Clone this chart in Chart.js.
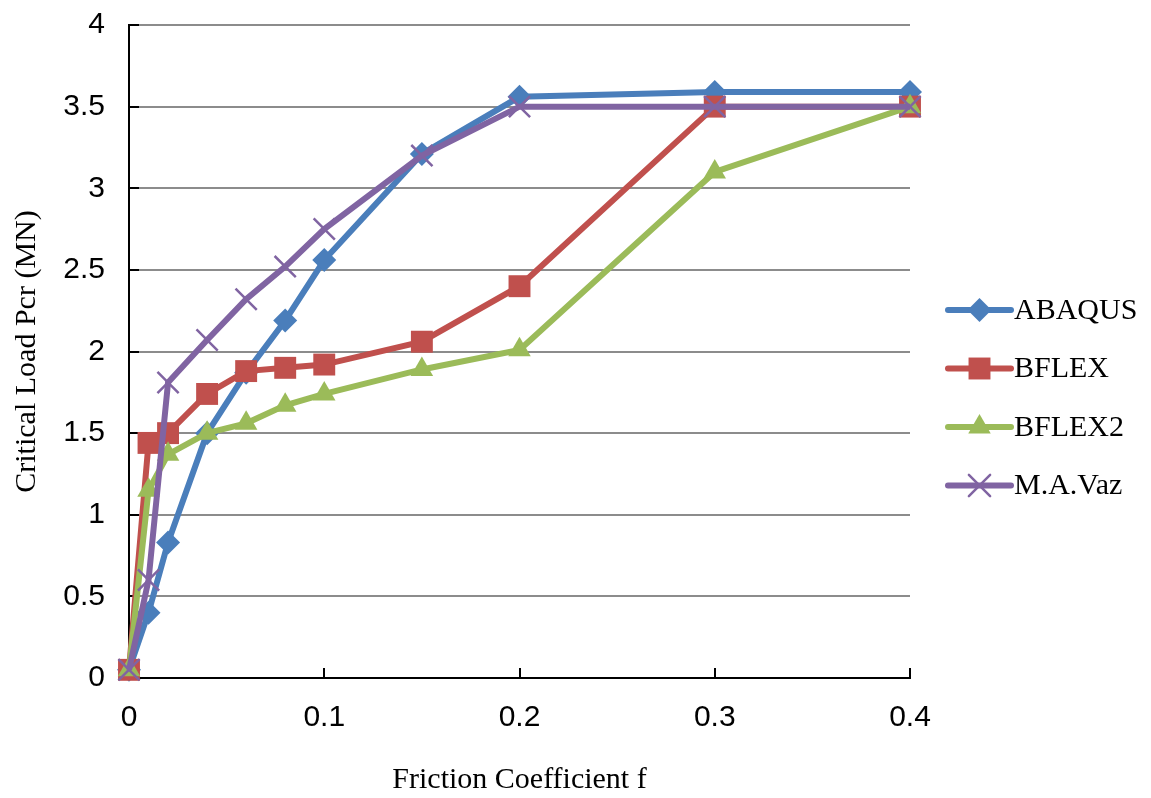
<!DOCTYPE html>
<html>
<head>
<meta charset="utf-8">
<script src="https://cdn.jsdelivr.net/npm/chart.js@4.4.0/dist/chart.umd.min.js"></script>
<style>
  html, body { margin: 0; padding: 0; background: #fff; }
  #wrap { width: 1151px; height: 798px; }
</style>
</head>
<body>
<div id="wrap"><canvas id="chart" width="1151" height="798"></canvas></div>
<script>
// friction coefficient values (x)
const friction = [0, 0.01, 0.02, 0.04, 0.06, 0.08, 0.1, 0.15, 0.2, 0.3, 0.4];

// critical load Pcr (MN) per method
const abaqus = [0.05, 0.40, 0.83, 1.50, 1.87, 2.19, 2.56, 3.21, 3.56, 3.59, 3.59];
const bflex  = [0.05, 1.44, 1.50, 1.74, 1.88, 1.90, 1.92, 2.06, 2.40, 3.50, 3.50];
const bflex2 = [0.05, 1.15, 1.37, 1.50, 1.56, 1.67, 1.74, 1.89, 2.01, 3.10, 3.50];
const maVaz  = [0.05, 0.60, 1.81, 2.07, 2.32, 2.52, 2.75, 3.20, 3.50, 3.50, 3.50];

const seriesNames = ['ABAQUS', 'BFLEX', 'BFLEX2', 'M.A.Vaz'];
const xTicks = [0, 0.1, 0.2, 0.3, 0.4];
const yTicks = [0, 0.5, 1, 1.5, 2, 2.5, 3, 3.5, 4];

const colors = ['#4a7ebb', '#c0504d', '#9bbb59', '#8064a2'];
const styles = ['rectRot', 'rect', 'triangle', 'crossRot'];
const radii = [12, 15.5, 13, 15];

function pts(ys) {
  return friction.map((x, i) => ({ x: x, y: ys[i] }));
}

const allSeries = [abaqus, bflex, bflex2, maVaz];

const datasets = allSeries.map((ys, i) => ({
  label: seriesNames[i],
  data: pts(ys),
  borderColor: colors[i],
  backgroundColor: colors[i],
  borderWidth: 6,
  pointStyle: styles[i],
  pointRadius: radii[i],
  pointBorderWidth: styles[i] === 'crossRot' ? 2.5 : 0,
  pointBorderColor: colors[i],
  pointBackgroundColor: colors[i],
  tension: 0,
  clip: false,
  order: 4 - i   // later series drawn on top, like the original
}));

const serif = '"Liberation Serif", "Times New Roman", serif';
const sans = '"Liberation Sans", Arial, sans-serif';

// legend drawn by hand: line + marker, like the office-style legend
const sideLegend = {
  id: 'sideLegend',
  afterDraw(chart) {
    const ctx = chart.ctx;
    ctx.save();
    chart.data.datasets.forEach((ds, i) => {
      const y = 310 + i * 58.5;
      ctx.strokeStyle = ds.borderColor;
      ctx.lineWidth = 6;
      ctx.lineCap = 'round';
      ctx.beginPath();
      ctx.moveTo(948, y);
      ctx.lineTo(1011, y);
      ctx.stroke();
      ctx.fillStyle = ds.backgroundColor;
      ctx.lineWidth = ds.pointBorderWidth;
      Chart.helpers.drawPoint(ctx, {
        pointStyle: ds.pointStyle,
        radius: ds.pointRadius,
        rotation: 0,
        borderWidth: ds.pointBorderWidth
      }, 979.5, y);
      ctx.fillStyle = '#000';
      ctx.font = '30px ' + serif;
      ctx.textAlign = 'left';
      ctx.textBaseline = 'middle';
      ctx.fillText(ds.label, 1014, y + 1);
    });
    ctx.restore();
  }
};

// short inside tick marks on both axes
const innerTicks = {
  id: 'innerTicks',
  beforeDatasetsDraw(chart) {
    const ctx = chart.ctx;
    const xs = chart.scales.x, ys = chart.scales.y;
    ctx.save();
    ctx.strokeStyle = '#000';
    ctx.lineWidth = 2;
    ctx.beginPath();
    xTicks.slice(1).forEach(v => {
      const px = Math.round(xs.getPixelForValue(v));
      ctx.moveTo(px, ys.bottom);
      ctx.lineTo(px, ys.bottom - 10);
    });
    yTicks.slice(1).forEach(v => {
      const py = Math.round(ys.getPixelForValue(v));
      ctx.moveTo(xs.left, py);
      ctx.lineTo(xs.left + 10, py);
    });
    ctx.stroke();
    ctx.restore();
  }
};

new Chart(document.getElementById('chart'), {
  type: 'line',
  data: { datasets: datasets },
  options: {
    responsive: false,
    animation: false,
    layout: { padding: { top: 25, right: 241, left: 0, bottom: 0 } },
    plugins: {
      legend: { display: false },
      tooltip: { enabled: false }
    },
    scales: {
      x: {
        type: 'linear',
        min: 0,
        max: 0.4,
        afterFit(scale) {
          scale.height = 120;
          scale.paddingLeft = 0;
          scale.paddingRight = 0;
        },
        afterBuildTicks(scale) { scale.ticks = xTicks.map(v => ({ value: v })); },
        grid: { display: false, drawTicks: false },
        border: { display: true, color: '#000', width: 2 },
        ticks: {
          padding: 22,
          color: '#000',
          font: { family: sans, size: 30 },
          callback: v => String(v)
        },
        title: {
          display: true,
          text: 'Friction Coefficient f',
          color: '#000',
          font: { family: serif, size: 30 },
          padding: { top: 0, bottom: 0 }
        }
      },
      y: {
        min: 0,
        max: 4,
        afterFit(scale) {
          scale.width = 129;
          scale.paddingTop = 0;
          scale.paddingBottom = 0;
        },
        afterBuildTicks(scale) { scale.ticks = yTicks.map(v => ({ value: v })); },
        grid: {
          drawTicks: false,
          color: '#8c8c8c',
          lineWidth: 2
        },
        border: { display: true, color: '#000', width: 2 },
        ticks: {
          padding: 24,
          color: '#000',
          font: { family: sans, size: 30 },
          callback: v => String(v)
        },
        title: {
          display: true,
          text: 'Critical Load Pcr (MN)',
          color: '#000',
          font: { family: serif, size: 30 },
          padding: { top: 9, bottom: 0 }
        }
      }
    }
  },
  plugins: [sideLegend, innerTicks]
});
</script>
</body>
</html>
